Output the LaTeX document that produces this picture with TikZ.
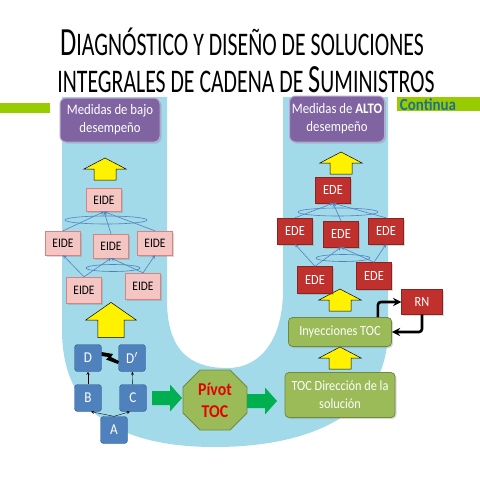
\documentclass[tikz,border=0pt]{standalone}
\usepackage{fontspec}
\setmainfont{Carlito}
\newfontfamily\ttlfont{Carlito}[FakeStretch=0.66]
\newfontfamily\bxfont{Carlito}[FakeStretch=0.88]
\usetikzlibrary{shadows}
\definecolor{bluU}{HTML}{A3DAEA}
\definecolor{purpF}{HTML}{8064A2}
\definecolor{purpB}{HTML}{B9A8CF}
\definecolor{eideF}{HTML}{F4C6C3}
\definecolor{eideB}{HTML}{D9827F}
\definecolor{edeF}{HTML}{C0312D}
\definecolor{edeB}{HTML}{8C2320}
\definecolor{lnkC}{HTML}{4F81BD}
\definecolor{abcF}{HTML}{4F81BD}
\definecolor{abcB}{HTML}{2E5A8E}
\definecolor{olvF}{HTML}{9BBB59}
\definecolor{olvB}{HTML}{71893F}
\definecolor{grnA}{HTML}{00B050}
\definecolor{barG}{HTML}{99CC00}
\definecolor{contC}{HTML}{1F6F90}
\newcommand\bigc[1]{{\fontsize{40}{40}\selectfont #1}}
\begin{document}
\begin{tikzpicture}[x=1pt,y=-1pt,
  shd/.style={drop shadow={opacity=.3,shadow xshift=1.5pt,shadow yshift=-1.5pt}},
  purp/.style={shd,draw=purpB,line width=1pt,fill=purpF,rounded corners=6pt,text=white,align=center,inner sep=2pt,font=\bxfont\fontsize{14.5}{18}\selectfont},
  eide/.style={shd,draw=eideB,fill=eideF,minimum width=35pt,minimum height=24pt,inner sep=1pt,font=\bxfont\fontsize{13}{15}\selectfont},
  ede/.style={shd,draw=edeB,fill=edeF,text=white,minimum width=35pt,minimum height=26pt,inner sep=1pt,font=\bxfont\fontsize{14}{16}\selectfont},
  lnk/.style={draw=lnkC,line width=.6pt},
  abc/.style={draw=abcB,fill=abcF,text=white,rounded corners=3pt,minimum size=27pt,inner sep=0pt,font=\bxfont\fontsize{15}{15}\selectfont},
  olv/.style={shd,draw=olvB,fill=olvF,text=white,rounded corners=4pt,align=center,line width=.8pt,font=\bxfont\fontsize{14}{18}\selectfont},
  yup/.pic={\draw[fill=yellow,line width=.5pt] (-11,11) -- (-11,0) -- (-21,0) -- (0,-11) -- (21,0) -- (11,0) -- (11,11) -- cycle;},
  grt/.pic={\fill[grnA] (-15,-7) -- (3,-7) -- (3,-13.5) -- (15,0) -- (3,13.5) -- (3,7) -- (-15,7) -- cycle;}]
\useasboundingbox (0,0) rectangle (480,480);
% U de fondo
\fill[bluU] (62,97) -- (62,330) .. controls (62,420) and (130,447) .. (215,447)
  .. controls (300,447) and (388,420) .. (388,330) -- (388,97) -- (283,97) -- (283,290)
  .. controls (283,340) and (260,368) .. (228,368) .. controls (200,368) and (167,360) .. (167,300)
  -- (167,97) -- cycle;
% titulo
\node[anchor=base,inner sep=0pt,font=\ttlfont\fontsize{33}{33}\selectfont] (tt1) at (242,55) {\bigc{D}IAGNÓSTICO Y DISEÑO DE SOLUCIONES};
\node[anchor=base,inner sep=0pt,font=\ttlfont\fontsize{33}{33}\selectfont] (tt2) at (246,92) {INTEGRALES DE CADENA DE \bigc{S}UMINISTROS};
\fill[barG] (0,103) rectangle (50,113);
\fill[barG] (397,97) rectangle (480,111);
\node[text=contC,inner sep=0pt,font=\bxfont\bfseries\fontsize{17}{17}\selectfont] (cont) at (428,105) {Continua};
% columna izquierda
\node[purp,minimum width=100pt,minimum height=44pt] (mb) at (110,120) {Medidas de bajo\\desempeño};
\pic (ya1) at (105,169) {yup};
\node[eide,minimum height=23pt] (t1) at (104,200) {EIDE};
\node[eide] (m1) at (63,243) {EIDE};
\node[eide] (m2) at (111,246) {EIDE};
\node[eide] (m3) at (155,243) {EIDE};
\node[eide,minimum height=26pt] (b1) at (84,290) {EIDE};
\node[eide,minimum height=26pt] (b2) at (143,286) {EIDE};
\draw[lnk] (106,220) ellipse [x radius=41,y radius=4];
\draw[lnk] (113,268) ellipse [x radius=27,y radius=3.5];
\foreach \n in {m1,m2,m3}\draw[lnk,-stealth] (\n.north) -- (t1.south);
\draw[lnk,-stealth] (b1.north) -- (m1.south);
\draw[lnk,-stealth] (b1.north) -- (m2.south);
\draw[lnk,-stealth] (b2.north) -- (m2.south);
\draw[lnk,-stealth] (b2.north) -- (m3.south);
\pic[xscale=1.2,yscale=1.6] (ya2) at (111,320) {yup};
\node[abc] (D) at (88,358) {D};
\node[abc] (Dp) at (132,358) {D$'$};
\node[abc] (B) at (88,398) {B};
\node[abc] (C) at (133,398) {C};
\node[abc] (A) at (114,430) {A};
\draw[-stealth,thin] (B) -- (D);
\draw[-stealth,thin] (C) -- (Dp);
\draw[-stealth,thin] (A.north) -- ([xshift=3]B.south);
\draw[-stealth,thin] (A.north) -- ([xshift=-3]C.south);
\fill (101.5,352) -- (113,354) -- (111,357) -- (119,361) -- (118,364) -- (106,359.5) -- (108.5,357) -- (101.5,356) -- cycle;
% centro
\pic (g1) at (167,398) {grt};
\filldraw[draw=olvB,fill=olvF,line width=.8pt] (183,387) -- (200,370) -- (230,370) -- (247,387)
  -- (247,413) -- (230,430) -- (200,430) -- (183,413) -- cycle;
\node[align=center,text=red!90!black,font=\bxfont\bfseries\fontsize{18}{22}\selectfont] (piv) at (215,400) {Pívot\\TOC};
\pic (g2) at (262,401) {grt};
% columna derecha
\node[olv,minimum width=110pt,minimum height=45pt] (toc) at (340,395) {TOC Dirección de la\\solución};
\pic (ya3) at (340,358) {yup};
\node[olv,minimum width=103pt,minimum height=29pt] (iny) at (340,332) {Inyecciones TOC};
\node[ede,minimum width=41pt,minimum height=25pt] (rn) at (422,302) {RN};
\draw[line width=2.6pt,rounded corners=3pt,-stealth] ([xshift=-14]iny.north east) |- (rn.west);
\draw[line width=2.6pt,rounded corners=3pt,-stealth] (rn.south) |- (iny.east);
\pic (ya4) at (340,300) {yup};
\node[ede,minimum height=27pt] (eb1) at (315,280) {EDE};
\node[ede,minimum height=27pt] (eb2) at (374,276) {EDE};
\node[ede] (em1) at (295,231) {EDE};
\node[ede] (em2) at (341,234) {EDE};
\node[ede] (em3) at (386,231) {EDE};
\node[ede] (et) at (333,190) {EDE};
\draw[lnk] (338,212) ellipse [x radius=40,y radius=4];
\draw[lnk] (343,258) ellipse [x radius=27,y radius=3.5];
\foreach \n in {em1,em2,em3}\draw[lnk,-stealth] (\n.north) -- (et.south);
\draw[lnk,-stealth] (eb1.north) -- (em1.south);
\draw[lnk,-stealth] (eb1.north) -- (em2.south);
\draw[lnk,-stealth] (eb2.north) -- (em2.south);
\draw[lnk,-stealth] (eb2.north) -- (em3.south);
\pic (ya5) at (341,163) {yup};
\node[purp,minimum width=95pt,minimum height=46pt] (ma) at (337,119) {Medidas de \textbf{ALTO}\\desempeño};
\end{tikzpicture}
\end{document}
